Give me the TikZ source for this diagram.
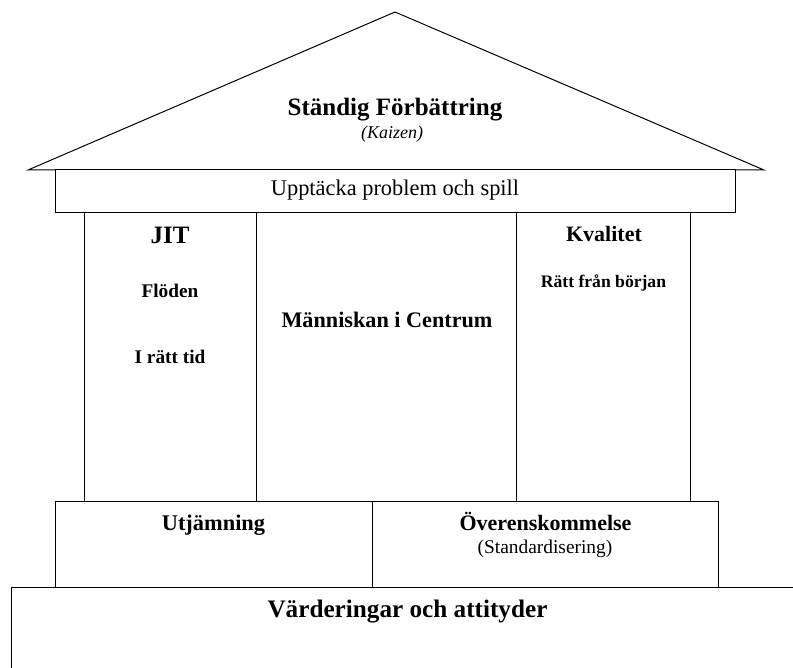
\documentclass[tikz,border=0pt]{standalone}
\usepackage{fontspec}
\setmainfont{Liberation Serif}
\tikzset{
  outline/.style={draw=black, line width=1pt},
  lbl/.style={anchor=base, inner sep=0pt, text=black},
}
\newcommand{\fsz}[1]{\fontsize{#1}{#1}\selectfont}
\begin{document}
\begin{tikzpicture}[x=1pt, y=-1pt]
\useasboundingbox (0,0) rectangle (793,668);
% roof
\draw[outline, line join=miter] (28,170) -- (395,12) -- (764,170) -- cycle;
% top beam
\draw[outline, fill=white] (55,170) rectangle (735,213);
% pillars
\draw[outline] (84,213) -- (84,501);
\draw[outline] (256.5,213) -- (256.5,501);
\draw[outline] (516.5,213) -- (516.5,501);
\draw[outline] (690.5,213) -- (690.5,501);
% lower boxes
\draw[outline] (55,501) rectangle (372.5,587);
\draw[outline] (372.5,501) rectangle (718,587);
% foundation
\draw[outline] (793,587) -- (11,587) -- (11,668);
% texts
\node[lbl, font=\fsz{25}\bfseries] (title) at (395,116) {Ständig Förbättring};
\node[lbl, font=\fsz{18}\itshape] (kaizen) at (392,139) {(Kaizen)};
\node[lbl, font=\fsz{22.4}] (beam) at (395,196) {Upptäcka problem och spill};
\node[lbl, font=\fsz{25}\bfseries] (jit) at (170,244) {JIT};
\node[lbl, font=\fsz{19.3}\bfseries] (flow) at (170,298) {Flöden};
\node[lbl, font=\fsz{19.3}\bfseries] (time) at (170,364) {I rätt tid};
\node[lbl, font=\fsz{22.2}\bfseries] (people) at (387,328) {Människan i Centrum};
\node[lbl, font=\fsz{22}\bfseries] (qual) at (604,242) {Kvalitet};
\node[lbl, font=\fsz{17.6}\bfseries] (right) at (603.5,288) {Rätt från början};
\node[lbl, font=\fsz{22.4}\bfseries] (level) at (213.5,530) {Utjämning};
\node[lbl, font=\fsz{22}\bfseries] (agree) at (545.5,530) {Överenskommelse};
\node[lbl, font=\fsz{19.4}] (std) at (545,553) {(Standardisering)};
\node[lbl, font=\fsz{25.2}\bfseries] (values) at (407.5,617) {Värderingar och attityder};
\end{tikzpicture}
\end{document}
